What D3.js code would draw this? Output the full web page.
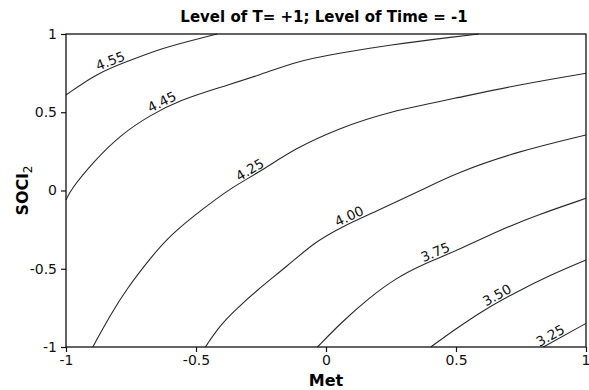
<!DOCTYPE html>
<html>
<head>
<meta charset="utf-8">
<script src="https://cdn.jsdelivr.net/npm/d3@7"></script>
<style>
  body { margin: 0; background: #fff; }
  svg { display: block; }
  text { font-family: "DejaVu Sans", Verdana, sans-serif; }
</style>
</head>
<body>
<svg id="chart" width="589" height="390"></svg>
<script>
// contour levels and the traced lines (Met, SOCl2)
const levels = ['4.55', '4.45', '4.25', '4.00', '3.75', '3.50', '3.25'];
const line455 = [[-1, 0.610], [-0.881, 0.749], [-0.765, 0.824], [-0.65, 0.898], [-0.535, 0.951], [-0.419, 1]];
const line445 = [[-1, -0.061], [-0.983, 0.003], [-0.894, 0.185], [-0.791, 0.355], [-0.676, 0.482], [-0.56, 0.578],
  [-0.419, 0.653], [-0.253, 0.738], [-0.118, 0.824], [0.048, 0.877], [0.241, 0.93], [0.497, 0.983], [0.587, 1]];
const line425 = [[-0.897, -1], [-0.83, -0.796], [-0.765, -0.625], [-0.676, -0.433], [-0.599, -0.284], [-0.471, -0.114],
  [-0.368, 0.014], [-0.253, 0.121], [-0.118, 0.27], [0.048, 0.397], [0.241, 0.504], [0.497, 0.589], [0.735, 0.674], [1, 0.749]];
const line400 = [[-0.464, -1], [-0.407, -0.859], [-0.342, -0.753], [-0.272, -0.646], [-0.144, -0.476], [-0.041, -0.327],
  [0.062, -0.231], [0.19, -0.135], [0.382, 0.014], [0.497, 0.11], [0.735, 0.249], [1, 0.355]];
const line375 = [[-0.033, -1], [0.062, -0.838], [0.164, -0.689], [0.267, -0.561], [0.382, -0.465], [0.497, -0.389],
  [0.67, -0.252], [0.812, -0.157], [1, -0.05]];
const line350 = [[0.403, -1], [0.497, -0.887], [0.606, -0.764], [0.735, -0.646], [0.863, -0.54], [1, -0.444]];
const line325 = [[0.836, -1], [1, -0.849]];
const contourLines = [line455, line445, line425, line400, line375, line350, line325];
// where along Met each level label sits
const labelAt = [-0.82, -0.62, -0.28, 0.1, 0.43, 0.67, 0.875];

const tickValues = [-1, -0.5, 0, 0.5, 1];
const tickLabels = ['-1', '-0.5', '0', '0.5', '1'];

const svg = d3.select('#chart');
const margin = {top: 34, right: 3, bottom: 43, left: 66};
const W = 589, H = 390;
const width = W - margin.left - margin.right, height = H - margin.top - margin.bottom;
const g = svg.append('g').attr('transform', `translate(${margin.left},${margin.top})`);

const x = d3.scaleLinear().domain([-1, 1]).range([0, width]);
const y = d3.scaleLinear().domain([-1, 1]).range([height, 0]);

const line = d3.line().x(d => x(d[0])).y(d => y(d[1])).curve(d3.curveBasis);

contourLines.forEach(pts => {
  g.append('path')
    .datum(pts)
    .attr('fill', 'none')
    .attr('stroke', '#2a2a2a')
    .attr('stroke-width', 1.1)
    .attr('d', line);
});

// interpolate y on a traced line
function yAt(pts, xv) {
  for (let i = 0; i < pts.length - 1; i++) {
    const a = pts[i], b = pts[i + 1];
    if (xv >= a[0] && xv <= b[0]) {
      const t = (xv - a[0]) / (b[0] - a[0]);
      return a[1] + t * (b[1] - a[1]);
    }
  }
  return xv < pts[0][0] ? pts[0][1] : pts[pts.length - 1][1];
}

levels.forEach((lab, i) => {
  const pts = contourLines[i];
  const xv = labelAt[i];
  const px = x(xv), py = y(yAt(pts, xv));
  const x0 = Math.max(pts[0][0], xv - 0.06), x1 = Math.min(pts[pts.length - 1][0], xv + 0.06);
  const ang = Math.atan2(y(yAt(pts, x1)) - y(yAt(pts, x0)), x(x1) - x(x0)) * 180 / Math.PI;
  g.append('text')
    .attr('transform', `translate(${px},${py}) rotate(${ang})`)
    .attr('y', -2)
    .attr('text-anchor', 'middle')
    .attr('font-size', 13.5)
    .attr('fill', '#111')
    .text(lab);
});

// frame
g.append('rect')
  .attr('width', width).attr('height', height)
  .attr('fill', 'none').attr('stroke', '#111').attr('stroke-width', 1.3);

const xAxis = g.append('g').attr('transform', `translate(0,${height})`)
  .call(d3.axisBottom(x).tickValues(tickValues).tickFormat((d, i) => tickLabels[i]).tickSizeOuter(0).tickSize(5).tickPadding(3));
const yAxis = g.append('g')
  .call(d3.axisLeft(y).tickValues(tickValues).tickFormat((d, i) => tickLabels[i]).tickSizeOuter(0).tickSize(5).tickPadding(4));
[xAxis, yAxis].forEach(a => {
  a.select('.domain').remove();
  a.selectAll('line').attr('stroke', '#111').attr('stroke-width', 1.2);
  a.selectAll('text').attr('font-size', 14).attr('fill', '#111')
    .style('font-family', '"DejaVu Sans", Verdana, sans-serif');
});
// keep the last x label inside the page
xAxis.selectAll('.tick').filter(d => d === 1).select('text').attr('text-anchor', 'end').attr('dx', 4);

svg.append('text')
  .attr('x', margin.left + width / 2 - 2).attr('y', 22)
  .attr('text-anchor', 'middle')
  .attr('font-size', 15).attr('font-weight', 'bold')
  .text('Level of T= +1; Level of Time = -1');

svg.append('text')
  .attr('x', margin.left + width / 2).attr('y', 386)
  .attr('text-anchor', 'middle')
  .attr('font-size', 16).attr('font-weight', 'bold')
  .text('Met');

const yl = svg.append('text')
  .attr('transform', `translate(28,${margin.top + height / 2}) rotate(-90)`)
  .attr('text-anchor', 'middle')
  .attr('font-size', 16).attr('font-weight', 'bold');
yl.append('tspan').text('SOCl');
yl.append('tspan').attr('font-weight', 'normal').attr('font-size', 12).attr('dy', 4).text('2');
</script>
</body>
</html>
